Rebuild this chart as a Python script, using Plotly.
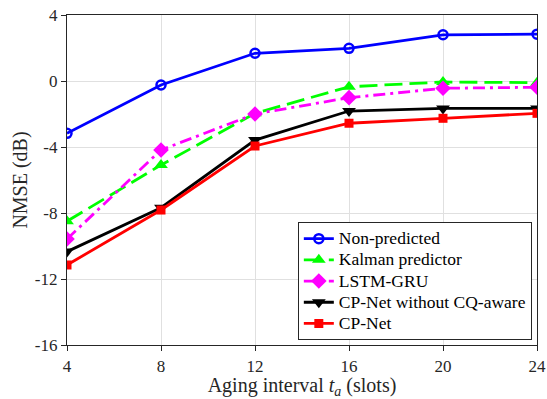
import plotly.graph_objects as go

aging = [4, 8, 12, 16, 20, 24]
non_predicted = [-3.17, -0.24, 1.68, 1.98, 2.80, 2.84]
kalman = [-8.5, -5.09, -1.96, -0.35, -0.06, -0.1]
lstm_gru = [-9.58, -4.18, -2.0, -1.01, -0.44, -0.38]
cpnet_no_cq = [-10.34, -7.68, -3.58, -1.82, -1.66, -1.66]
cpnet = [-11.15, -7.82, -3.94, -2.56, -2.26, -1.96]

y_tickvals = [4, 0, -4, -8, -12, -16]
y_ticktext = ["4", "0", "-4", "-8", "-12", "-16"]
x_tickvals = [4, 8, 12, 16, 20, 24]

series = [
    ("Non-predicted", non_predicted, "#0000FF", "solid", dict(symbol="circle-open", size=9, line=dict(width=2.5, color="#0000FF"))),
    ("Kalman predictor", kalman, "#00FF00", "18px,7px", dict(symbol="triangle-up", size=12)),
    ("LSTM-GRU", lstm_gru, "#FF00FF", "12px,5px,3px,5px", dict(symbol="diamond", size=12)),
    ("CP-Net without CQ-aware", cpnet_no_cq, "#000000", "solid", dict(symbol="triangle-down", size=12)),
    ("CP-Net", cpnet, "#FF0000", "solid", dict(symbol="square", size=9)),
]

fig = go.Figure()
for name, ys, color, dash, marker in series:
    m = dict(color=color)
    m.update(marker)
    fig.add_trace(go.Scatter(x=aging, y=ys, name='<span style="font-size:17.5px">' + name + '</span>',
                             mode="lines+markers",
                             line=dict(color=color, width=2.8, dash=dash),
                             marker=m))

font = "Liberation Serif, Times New Roman, serif"
fig.update_layout(
    width=547, height=399,
    margin=dict(l=67, r=10, t=15, b=54, autoexpand=False),
    paper_bgcolor="white", plot_bgcolor="white",
    font=dict(family=font, size=17, color="#262626"),
    showlegend=True,
    legend=dict(x=0.989, y=0.015, xanchor="right", yanchor="bottom",
                bgcolor="white", bordercolor="#262626", borderwidth=1,
                font=dict(family=font, size=14, color="#000000"),
                tracegroupgap=0, itemwidth=30),
    xaxis=dict(range=[4, 24], tickvals=x_tickvals, showgrid=True, gridcolor="#E0E0E0", gridwidth=1,
               showline=True, linecolor="#262626", linewidth=1.2, mirror=True, automargin=False,
               ticks="outside", ticklen=5, tickcolor="#262626", zeroline=False,
               tickfont=dict(family=font, size=17),
               title=dict(text="Aging interval <i>t</i><sub><i>a</i></sub> (slots)", standoff=5,
                          font=dict(family=font, size=20))),
    yaxis=dict(range=[-16, 4], tickvals=y_tickvals, ticktext=y_ticktext, showgrid=True,
               gridcolor="#E0E0E0", gridwidth=1, automargin=False,
               showline=True, linecolor="#262626", linewidth=1.2, mirror=True,
               ticks="outside", ticklen=5, tickcolor="#262626", zeroline=False,
               tickfont=dict(family=font, size=17),
               title=dict(text="NMSE (dB)", standoff=1, font=dict(family=font, size=20))),
)

fig.write_html("out.html")
